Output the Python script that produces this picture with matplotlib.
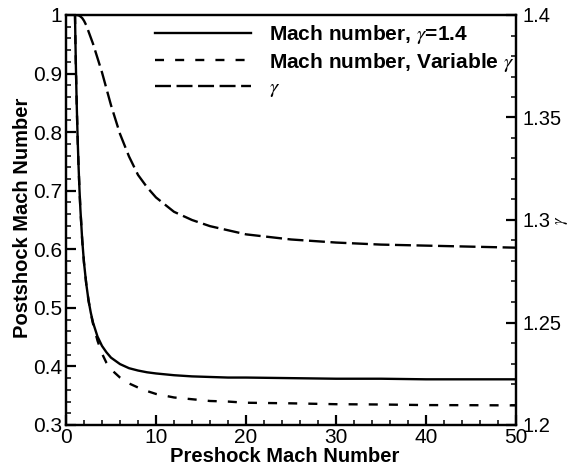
import numpy as np
import matplotlib
matplotlib.use("Agg")
import matplotlib.pyplot as plt
from matplotlib.ticker import MultipleLocator

plt.rcParams['font.family'] = ['Liberation Sans', 'DejaVu Sans']
plt.rcParams['mathtext.fontset'] = 'stix'
plt.rcParams['lines.scale_dashes'] = False

# values
m1 = [1.0, 1.05, 1.1, 1.15, 1.2, 1.3, 1.4, 1.5, 1.6, 1.8, 2.0, 2.25, 2.5, 2.75,
      3.0, 3.5, 4.0, 4.5, 5.0, 6.0, 7.0, 8.0, 9.0, 10.0, 12.0, 14.0, 16.0, 18.0,
      20.0, 25.0, 30.0, 35.0, 40.0, 45.0, 50.0]
mach_ideal = [1.0, 0.953, 0.912, 0.875, 0.842, 0.786, 0.740, 0.701, 0.668, 0.616,
              0.577, 0.541, 0.513, 0.492, 0.475, 0.451, 0.435, 0.424, 0.415, 0.404,
              0.397, 0.393, 0.390, 0.388, 0.385, 0.383, 0.382, 0.381, 0.381, 0.380,
              0.379, 0.379, 0.378, 0.378, 0.378]
mach_var = [1.0, 0.953, 0.912, 0.875, 0.842, 0.786, 0.740, 0.701, 0.668, 0.616,
            0.577, 0.541, 0.513, 0.491, 0.473, 0.444, 0.422, 0.406, 0.395, 0.381,
            0.371, 0.364, 0.358, 0.353, 0.347, 0.344, 0.341, 0.340, 0.338, 0.337,
            0.3355, 0.335, 0.334, 0.3338, 0.3335]
gamma = [1.4, 1.4, 1.4, 1.4, 1.4, 1.3999, 1.3998, 1.3996, 1.3993, 1.3985, 1.3972,
         1.395, 1.392, 1.389, 1.386, 1.379, 1.372, 1.364, 1.356, 1.342, 1.331,
         1.322, 1.316, 1.311, 1.304, 1.300, 1.297, 1.295, 1.293, 1.2905, 1.289,
         1.288, 1.2875, 1.287, 1.2865]

fig = plt.figure(figsize=(5.8, 4.67), dpi=100)
ax = fig.add_axes([66/580, 1 - 425/467, 450/580, 410/467])
ax2 = ax.twinx()

l1, = ax.plot(m1, mach_ideal, color='black', lw=1.7, label=r'Mach number, $\gamma$=1.4')
l2, = ax.plot(m1, mach_var, color='black', lw=1.7, dashes=(6.5, 8),
              label=r'Mach number, Variable $\gamma$')
l3, = ax2.plot(m1, gamma, color='black', lw=1.7, dashes=(11.5, 4),
               label=r'$\gamma$')

ax.set_xlim(0, 50)
ax.set_ylim(0.3, 1.0)
ax2.set_ylim(1.2, 1.4)

ax.xaxis.set_minor_locator(MultipleLocator(2))
ax.yaxis.set_minor_locator(MultipleLocator(0.02))
ax2.yaxis.set_minor_locator(MultipleLocator(0.01))

ax.set_xticks([0, 10, 20, 30, 40, 50])
ax.set_xticklabels(['0', '10', '20', '30', '40', '50'])
ax.set_yticks([0.3, 0.4, 0.5, 0.6, 0.7, 0.8, 0.9, 1.0])
ax.set_yticklabels(['0.3', '0.4', '0.5', '0.6', '0.7', '0.8', '0.9', '1'])
ax2.set_yticks([1.2, 1.25, 1.3, 1.35, 1.4])
ax2.set_yticklabels(['1.2', '1.25', '1.3', '1.35', '1.4'])

for a in (ax, ax2):
    for s in a.spines.values():
        s.set_linewidth(1.6)
ax.tick_params(axis='both', which='major', direction='in', length=7, width=1.6,
               labelsize=15, top=False, right=False)
ax.tick_params(axis='both', which='minor', direction='in', length=3.5, width=1.1,
               top=False, right=False)
ax.tick_params(axis='x', which='major', pad=2)
ax.tick_params(axis='y', which='major', pad=3)
ax2.tick_params(axis='y', which='major', direction='in', length=7, width=1.6,
                labelsize=14.5, pad=5)
ax2.tick_params(axis='y', which='minor', direction='in', length=3.5, width=1.1)

ax.set_xlabel('Preshock Mach Number', fontsize=14.5, fontweight='bold')
ax.xaxis.set_label_coords(0.487, -0.053)
ax.set_ylabel('Postshock Mach Number', fontsize=14.5, fontweight='bold')
ax.yaxis.set_label_coords(-0.075, 0.505)
ax2.set_ylabel(r'$\gamma$', fontsize=12, rotation=90, labelpad=0)
ax2.yaxis.set_label_coords(1.085, 0.5)

leg = ax.legend(handles=[l1, l2, l3], loc='upper left', bbox_to_anchor=(0.198, 0.98),
                frameon=False, handlelength=4.6, handletextpad=0.85,
                labelspacing=0.22, borderaxespad=0, borderpad=0,
                prop={'size': 15, 'weight': 'bold'})
leg.get_texts()[2].set_fontweight('normal')

fig.savefig('out.png', dpi=100)
